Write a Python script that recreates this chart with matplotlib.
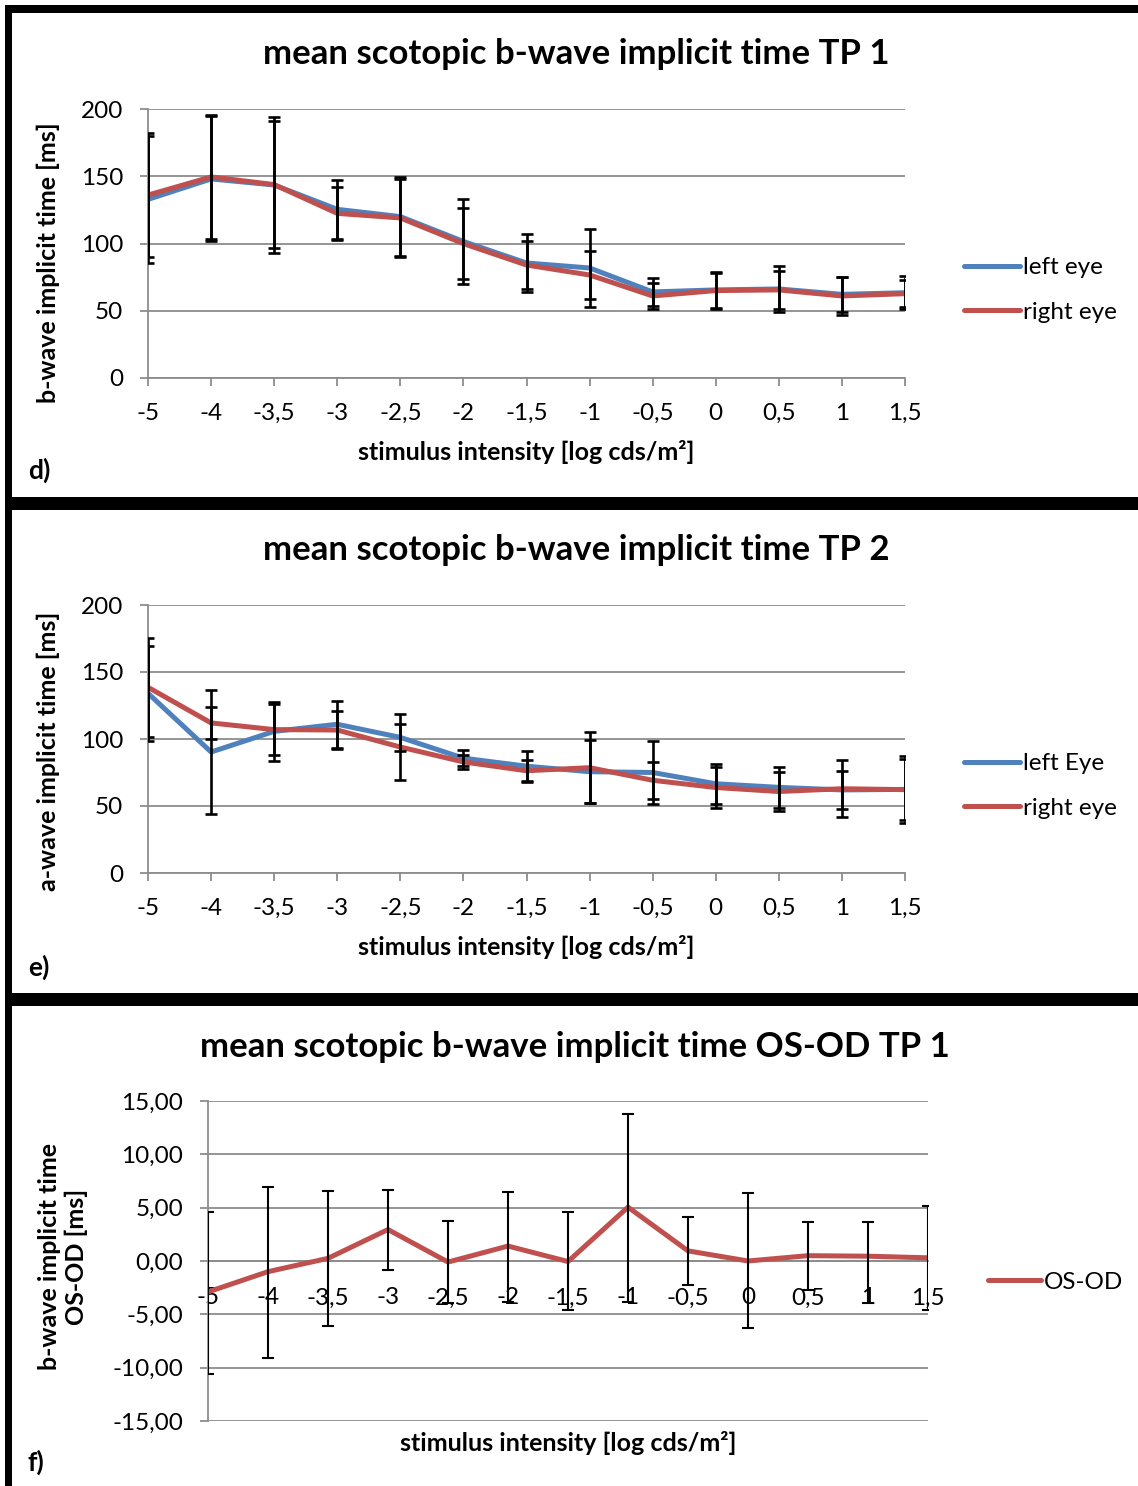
import numpy as np
import matplotlib
matplotlib.use('Agg')
import matplotlib.pyplot as plt
from matplotlib.patches import Rectangle

plt.rcParams['font.family'] = ['Lato', 'DejaVu Sans']

# data
intensity = ['-5', '-4', '-3,5', '-3', '-2,5', '-2', '-1,5', '-1', '-0,5', '0', '0,5', '1', '1,5']

d_left = [132.8, 148, 143.5, 125.4, 120, 101.5, 85.5, 81.8, 64, 65.5, 66.2, 62.2, 63.4]
d_left_err = [47.1, 46.5, 50.4, 21.8, 29.2, 31.8, 21.4, 28.8, 10.2, 13.4, 17.1, 13.1, 12.4]
d_right = [136, 149.5, 143.8, 122.4, 119, 99.9, 84, 76.6, 61, 65, 65.5, 61, 62.7]
d_right_err = [45.8, 46, 47.2, 19.8, 29.2, 26.3, 17.5, 17.9, 9.8, 13.4, 14.2, 14.3, 10.2]

e_left = [134.1, 90.3, 105.7, 111, 101.2, 85.7, 79.7, 75.6, 75, 66.6, 63.9, 62, 62.4]
e_left_err = [35.3, 46.6, 21.8, 17.5, 10.3, 6.0, 11.4, 23.7, 23.3, 14.8, 15.5, 14.2, 25.2]
e_right = [138.6, 112, 107, 106.7, 94, 82.9, 76.3, 78.6, 69.2, 63.8, 60.8, 62.9, 62.2]
e_right_err = [37, 12.2, 19.3, 14.3, 24.6, 5.4, 8.1, 26.5, 13.7, 15, 14.7, 21.4, 22.7]

f_diff = [-2.9, -1.0, 0.25, 2.95, -0.1, 1.4, -0.05, 5.05, 0.95, 0.0, 0.5, 0.45, 0.3]
f_top = [4.63, 6.97, 6.56, 6.66, 3.75, 6.44, 4.63, 13.78, 4.13, 6.34, 3.69, 3.63, 5.19]
f_bottom = [-10.6, -9.13, -6.09, -0.84, -3.97, -3.81, -4.59, -3.81, -2.25, -6.31, -2.72, -3.9, -4.59]

W, H = 1138, 1486
BLUE = '#4F81BD'
RED = '#C0504D'
GRID = '#8C8C8C'
TICK_FS = 17.5
LABEL_FS = 18
TITLE_FS = 25

fig = plt.figure(figsize=(W / 100, H / 100), dpi=100)


def fx(px):
    return px / W


def fy(py):
    return 1 - py / H


def make_ax(l, r, t, b):
    return fig.add_axes([fx(l), fy(b), fx(r) - fx(l), fy(t) - fy(b)])


def style_ax(ax):
    for s in ['top', 'right']:
        ax.spines[s].set_visible(False)
    for s in ['left', 'bottom']:
        ax.spines[s].set_color(GRID)
        ax.spines[s].set_linewidth(1.3)
    ax.yaxis.grid(True, color=GRID, lw=1.3)
    ax.set_axisbelow(True)
    ax.tick_params(axis='both', colors=GRID, length=6, width=1.3, labelsize=TICK_FS,
                   labelcolor='black')
    ax.tick_params(axis='x', pad=12)
    ax.tick_params(axis='y', pad=12)


x = np.arange(len(intensity))
eb = dict(fmt='none', ecolor='black', elinewidth=1.9, capsize=4, capthick=1.9, zorder=4)


def eye_panel(l, r, t, b, left, left_err, right, right_err, title, ylabel, ylab_y,
              leg_left, leg_y):
    ax = make_ax(l, r, t, b)
    style_ax(ax)
    ax.plot(x, left, color=BLUE, lw=3.6, solid_capstyle='round', solid_joinstyle='round',
            zorder=3, label=leg_left)
    ax.plot(x, right, color=RED, lw=3.6, solid_capstyle='round', solid_joinstyle='round',
            zorder=3, label='right eye')
    ax.errorbar(x, left, yerr=left_err, **eb)
    ax.errorbar(x, right, yerr=right_err, **eb)
    ax.set_xlim(0, 12)
    ax.set_ylim(0, 200)
    ax.set_yticks([0, 50, 100, 150, 200])
    ax.set_xticks(x)
    ax.set_xticklabels(intensity)
    ax.legend(loc='center left', bbox_to_anchor=(fx(942), fy(leg_y)),
              bbox_transform=fig.transFigure, frameon=False, fontsize=TICK_FS,
              handlelength=2.3, handletextpad=0.12, labelspacing=0.95)
    fig.text(fx(576), fy(t - 55), title, ha='center', va='center',
             fontsize=TITLE_FS, fontweight='bold')
    fig.text(fx(48), fy(ylab_y), ylabel, ha='center', va='center',
             rotation=90, fontsize=LABEL_FS, fontweight='bold')
    fig.text(fx(526), fy(b + 74), 'stimulus intensity [log cds/m²]', ha='center',
             va='center', fontsize=LABEL_FS, fontweight='bold')
    return ax


eye_panel(148, 905, 109, 378, d_left, d_left_err, d_right, d_right_err,
          'mean scotopic b-wave implicit time TP 1', 'b-wave implicit time [ms]', 263,
          'left eye', 290)
eye_panel(148, 905, 605, 873, e_left, e_left_err, e_right, e_right_err,
          'mean scotopic b-wave implicit time TP 2', 'a-wave implicit time [ms]', 751,
          'left Eye', 786)

# panel f
axf = make_ax(208, 928, 1101, 1421)
style_ax(axf)
axf.spines['bottom'].set_position(('data', 0))
f_err = [np.array(f_diff) - np.array(f_bottom), np.array(f_top) - np.array(f_diff)]
axf.plot(x, f_diff, color=RED, lw=3.6, solid_capstyle='round', solid_joinstyle='round',
         zorder=3, label='OS-OD')
axf.errorbar(x, f_diff, yerr=f_err, fmt='none', ecolor='black', elinewidth=1.5,
             capsize=4, capthick=1.5, zorder=4)
axf.set_xlim(0, 12)
axf.set_ylim(-15, 15)
axf.set_yticks(np.arange(-15, 16, 5))
axf.set_yticklabels([f'{v:.2f}'.replace('.', ',') for v in np.arange(-15, 16, 5)])
axf.set_xticks(x)
axf.set_xticklabels(intensity)
axf.tick_params(axis='x', length=0, pad=19)
axf.legend(loc='center left', bbox_to_anchor=(fx(966), fy(1282)),
           bbox_transform=fig.transFigure, frameon=False, fontsize=TICK_FS,
           handlelength=2.2, handletextpad=0.12)
fig.text(fx(575), fy(1047), 'mean scotopic b-wave implicit time OS-OD TP 1', ha='center',
         va='center', fontsize=TITLE_FS, fontweight='bold')
fig.text(fx(63), fy(1257), 'b-wave implicit time\nOS-OD [ms]', ha='center', va='center',
         rotation=90, fontsize=LABEL_FS, fontweight='bold', linespacing=1.15)
fig.text(fx(568), fy(1443), 'stimulus intensity [log cds/m²]', ha='center', va='center',
         fontsize=LABEL_FS, fontweight='bold')

# panel letters
for lab, yy in [('d)', 470), ('e)', 967), ('f)', 1462)]:
    fig.text(fx(28), fy(yy), lab, ha='left', va='center', fontsize=19, fontweight='bold')

# black frame lines
for (x0, y0, x1, y1) in [(5, 5, W, 13), (5, 5, 12, H), (5, 497, W, 510), (5, 993, W, 1006)]:
    fig.add_artist(Rectangle((fx(x0), fy(y1)), fx(x1) - fx(x0), fy(y0) - fy(y1),
                             transform=fig.transFigure, color='black', lw=0))

fig.savefig('out.png', dpi=100)
